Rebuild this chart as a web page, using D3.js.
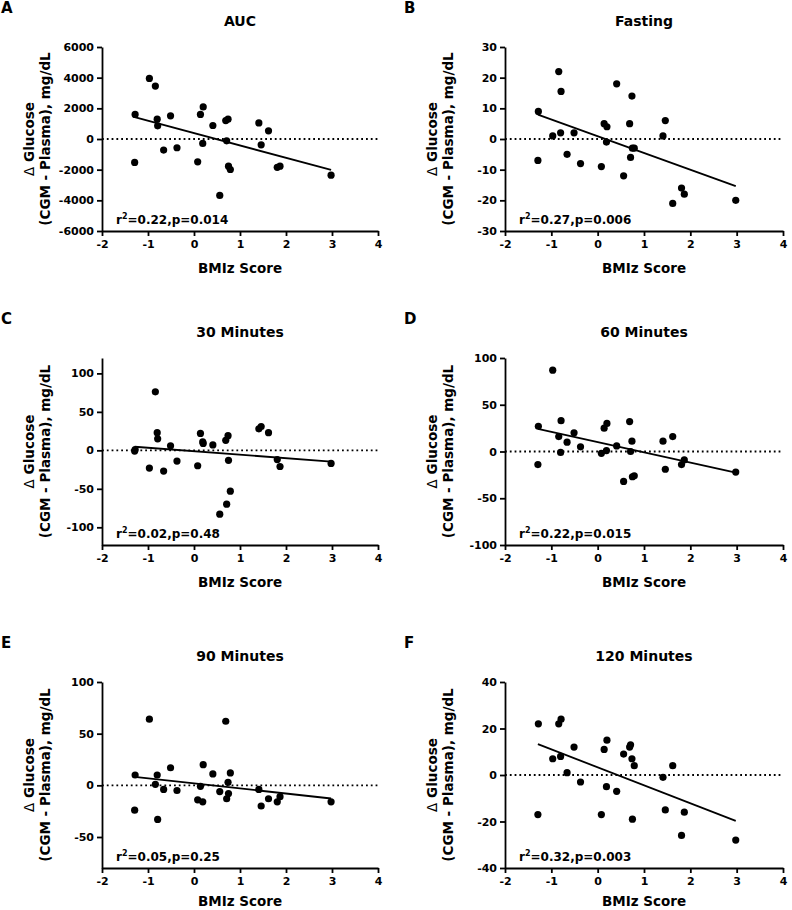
<!DOCTYPE html>
<html>
<head>
<meta charset="utf-8">
<script src="https://cdn.jsdelivr.net/npm/d3@7"></script>
<style>
  body { margin: 0; background: #fff; }
  text { font-family: "DejaVu Sans", sans-serif; font-weight: bold; fill: #000; }
</style>
</head>
<body>
<svg id="chart" width="792" height="910"></svg>
<script>
// BMIz score of each subject (shared by all panels)
const bmiz = [-1.28, -1.29, -0.97, -0.84, -0.80, -0.79, -0.66, -0.51, -0.37, 0.08, 0.14, 0.19, 0.20,
  0.41, 0.56, 0.69, 0.71, 0.74, 0.75, 0.79, 1.41, 1.46, 1.62, 1.81, 1.87, 2.98];

// delta glucose (CGM - plasma) per subject, one array per time point
const aucDiff = [1600, -1530, 3950, 3450, 1290, 860, -720, 1510, -570, -1490, 1600, -290, 2090,
  880, -3680, 1200, -120, 1290, -1770, -1990, 1050, -380, 530, -1850, -1770, -2360];
const fastingDiff = [9, -7, 1, 22, 2, 15.5, -5, 2, -8, -9, 5, -1, 4,
  18, -12, 5, -6, 14, -3, -3, 1, 6, -21, -16, -18, -20];
const min30Diff = [1, -1, -23, 76, 23, 15, -27, 6, -14, -20, 22, 11, 9,
  7, -83, 13, -70, 19, -13, -53, 28, 31, 23, -12, -21, -17];
const min60Diff = [27, -14, 87, 16, -1, 33, 10, 20, 5, -2, 25, 1, 30,
  6, -32, 32, 0, 11, -27, -26, 11, -19, 16, -14, -9, -22];
const min90Diff = [10, -24, 64, 1, 10, -33, -4, 17, -5, -14, -1, -16, 20,
  11, -6, 62, -13, 3, -8, 12, -4, -20, -13, -16, -11, -16];
const min120Diff = [22, -17, 7, 22, 8, 24, 1, 12, -3, -17, 11, -5, 15,
  -7, 9, 12, 13, 7, -19, 4, -1, -15, 4, -26, -16, -28];

const panelLetters = ["A", "B", "C", "D", "E", "F"];
const panelTitles = ["AUC", "Fasting", "30 Minutes", "60 Minutes", "90 Minutes", "120 Minutes"];
const statsR2 = ["0.22", "0.27", "0.02", "0.22", "0.05", "0.32"];
const statsP = ["0.014", "0.006", "0.48", "0.015", "0.25", "0.003"];
const yDomains = [[-6000, 6000], [-30, 30], [-123, 120], [-100, 100], [-80, 100], [-40, 40]];
const yTickValues = [
  [-6000, -4000, -2000, 0, 2000, 4000, 6000],
  [-30, -20, -10, 0, 10, 20, 30],
  [-100, -50, 0, 50, 100],
  [-100, -50, 0, 50, 100],
  [-50, 0, 50, 100],
  [-40, -20, 0, 20, 40]
];
const xTickValues = [-2, -1, 0, 1, 2, 3, 4];

const series = [aucDiff, fastingDiff, min30Diff, min60Diff, min90Diff, min120Diff];

const svg = d3.select("#chart");
svg.append("rect").attr("width", 792).attr("height", 910).attr("fill", "#fff");

// plot boxes for the 2 x 3 grid
const cols = [{ left: 102, right: 378 }, { left: 505, right: 783 }];
const rows = [{ top: 47, bottom: 231 }, { top: 358, bottom: 545 }, { top: 682, bottom: 868 }];

const plainNum = d => String(d);   // hyphen minus, no thousands separator

series.forEach((vals, i) => {
  const c = cols[i % 2], r = rows[Math.floor(i / 2)];
  const g = svg.append("g");

  const x = d3.scaleLinear().domain([-2, 4]).range([c.left, c.right]);
  const y = d3.scaleLinear().domain(yDomains[i]).range([r.bottom, r.top]);
  const pts = bmiz.map((b, k) => ({ x: b, y: vals[k] }));

  // zero reference line
  g.append("line")
    .attr("x1", c.left).attr("x2", c.right)
    .attr("y1", y(0)).attr("y2", y(0))
    .attr("stroke", "#000").attr("stroke-width", 1.8)
    .attr("stroke-dasharray", "1.8,3");

  // least-squares fit
  const mx = d3.mean(pts, d => d.x), my = d3.mean(pts, d => d.y);
  const slope = d3.sum(pts, d => (d.x - mx) * (d.y - my)) / d3.sum(pts, d => (d.x - mx) ** 2);
  const [x0, x1] = d3.extent(pts, d => d.x);
  g.append("line")
    .attr("x1", x(x0)).attr("x2", x(x1))
    .attr("y1", y(my + slope * (x0 - mx))).attr("y2", y(my + slope * (x1 - mx)))
    .attr("stroke", "#000").attr("stroke-width", 1.8);

  g.selectAll("circle").data(pts).enter().append("circle")
    .attr("cx", d => x(d.x)).attr("cy", d => y(d.y))
    .attr("r", 3.6).attr("fill", "#000");

  // axes
  const ax = g.append("g").attr("transform", `translate(0,${r.bottom})`)
    .call(d3.axisBottom(x).tickValues(xTickValues).tickFormat(plainNum)
      .tickSize(5).tickSizeOuter(0).tickPadding(4));
  const ay = g.append("g").attr("transform", `translate(${c.left},0)`)
    .call(d3.axisLeft(y).tickValues(yTickValues[i]).tickFormat(plainNum)
      .tickSize(5).tickSizeOuter(0).tickPadding(3));
  [ax, ay].forEach(a => {
    a.select(".domain").attr("stroke-width", 1.8);
    a.selectAll(".tick line").attr("stroke-width", 1.8);
    a.selectAll(".tick text").style("font-size", "11px")
      .style("font-family", "'DejaVu Sans', sans-serif").style("font-weight", "bold");
  });

  // labels
  const cx = (c.left + c.right) / 2;
  g.append("text").attr("x", cx).attr("y", r.top - 21)
    .attr("text-anchor", "middle").style("font-size", "14px").text(panelTitles[i]);
  g.append("text").attr("x", c.left - 101).attr("y", r.top - 34)
    .style("font-size", "15px").text(panelLetters[i]);
  g.append("text").attr("x", cx).attr("y", Math.min(r.bottom + 42, 906))
    .attr("text-anchor", "middle").style("font-size", "13.5px").text("BMIz Score");

  const cy = (r.top + r.bottom) / 2;
  const yl = g.append("text").attr("transform", `translate(${c.left - 68},${cy}) rotate(-90)`)
    .attr("text-anchor", "middle").style("font-size", "13.5px");
  yl.append("tspan").style("font-weight", "normal").text("\u0394");
  yl.append("tspan").text(" Glucose");
  g.append("text").attr("transform", `translate(${c.left - 52},${cy}) rotate(-90)`)
    .attr("text-anchor", "middle").style("font-size", "13.5px").text("(CGM - Plasma), mg/dL");

  const st = g.append("text").attr("x", c.left + 14).attr("y", r.bottom - 7).style("font-size", "12px");
  st.append("tspan").text("r");
  st.append("tspan").attr("dy", -5).style("font-size", "8px").text("2");
  st.append("tspan").attr("dy", 5).text(`=${statsR2[i]},p=${statsP[i]}`);
});
</script>
</body>
</html>
